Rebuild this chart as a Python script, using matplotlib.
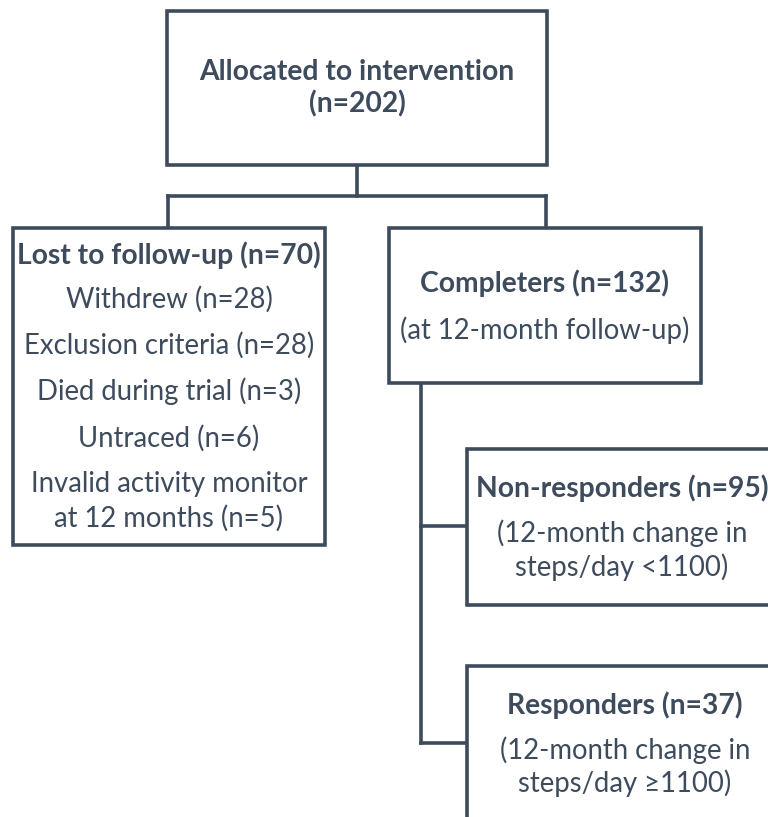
"""
FLOW DIAGRAM OF PARTICIPANTS
"""

import matplotlib.pyplot as plt
from matplotlib.patches import Rectangle

plt.rcParams['font.family'] = ['Lato', 'DejaVu Sans']

# Box texts: (bold title lines, normal lines).
top_title = ['Allocated to intervention', '(n=202)']
lost_title = 'Lost to follow-up (n=70)'
lost_lines = ['Withdrew (n=28)', 'Exclusion criteria (n=28)',
              'Died during trial (n=3)', 'Untraced (n=6)',
              'Invalid activity monitor', 'at 12 months (n=5)']
comp_title = 'Completers (n=132)'
comp_lines = ['(at 12-month follow-up)']
nonresp_title = 'Non-responders (n=95)'
nonresp_lines = ['(12-month change in', 'steps/day <1100)']
resp_title = 'Responders (n=37)'
resp_lines = ['(12-month change in', 'steps/day \u22651100)']

INK = '#3d4b5d'
LW = 2.6
FS = 19.8
FS_BOLD = 20.3

fig = plt.figure(figsize=(7.68, 8.17), dpi=100)
ax = fig.add_axes([0, 0, 1, 1])
ax.set_xlim(0, 768)
ax.set_ylim(817, 0)
ax.axis('off')


def box(x0, y0, x1, y1):
    """ Draw one white box with a dark outline. """
    ax.add_patch(Rectangle((x0, y0), x1 - x0, y1 - y0, facecolor='white',
                           edgecolor=INK, linewidth=LW, zorder=2))


def line(xs, ys):
    ax.plot(xs, ys, color=INK, linewidth=LW, solid_capstyle='projecting',
            zorder=1)


def txt(x, y, s, bold=False):
    ax.text(x, y, s, ha='center', va='center', color=INK,
            fontsize=FS_BOLD if bold else FS,
            fontweight='bold' if bold else 'normal', zorder=3)


# Connectors.
line([357, 357], [165, 196])
line([168, 546], [196, 196])
line([168, 168], [196, 228])
line([546, 546], [196, 228])
line([421, 421], [383, 743])
line([421, 467], [526, 526])
line([421, 467], [743, 743])

# Boxes.
box(167, 11, 547, 165)
box(13, 228, 325, 545)
box(389, 228, 701, 383)
box(467, 449, 800, 605)
box(467, 666, 800, 840)

# Top box.
txt(357, 72, top_title[0], bold=True)
txt(357, 104, top_title[1], bold=True)

# Lost to follow-up.
txt(169, 255, lost_title, bold=True)
for s, y in zip(lost_lines, [299, 345, 391, 438, 484, 518]):
    txt(169, y, s)

# Completers.
txt(545, 283, comp_title, bold=True)
txt(545, 330, comp_lines[0])

# Non-responders.
txt(622, 488, nonresp_title, bold=True)
for s, y in zip(nonresp_lines, [533, 567]):
    txt(622, y, s)

# Responders.
txt(625, 705, resp_title, bold=True)
for s, y in zip(resp_lines, [750, 783]):
    txt(625, y, s)

plt.savefig('out.png', dpi=100)
plt.close()
